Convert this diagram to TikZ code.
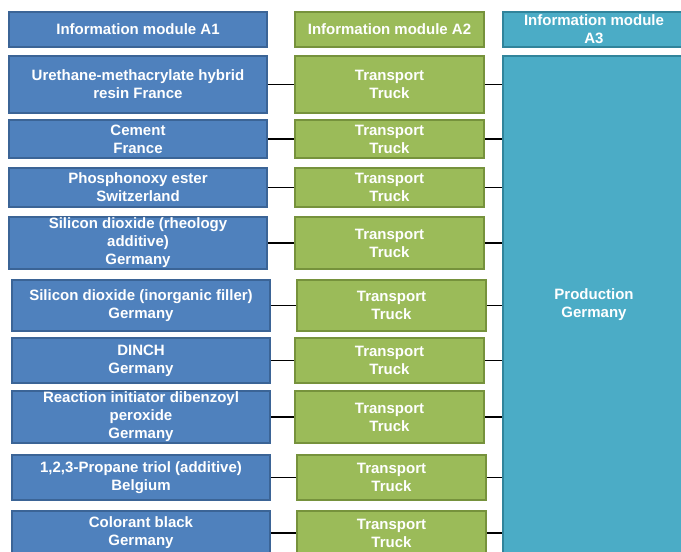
\documentclass[tikz,border=0pt]{standalone}
\usepackage{fontspec}
\setmainfont{Liberation Sans}
\definecolor{bfill}{HTML}{4F81BD}
\definecolor{bline}{HTML}{3B6496}
\definecolor{gfill}{HTML}{9BBB59}
\definecolor{gline}{HTML}{76923C}
\definecolor{tfill}{HTML}{4BACC6}
\definecolor{tline}{HTML}{31849B}
\tikzset{
  basebox/.style={rectangle, inner sep=0pt, line width=1.5pt, text=white, align=center,
    font=\fontsize{15}{18}\selectfont\bfseries},
  abox/.style={basebox, fill=bfill, draw=bline},
  gbox/.style={basebox, fill=gfill, draw=gline},
  tbox/.style={basebox, fill=tfill, draw=tline},
  conn/.style={line width=1.6pt, black},
}
\begin{document}
\begin{tikzpicture}[x=1pt,y=-1pt]
\useasboundingbox (0,0) rectangle (681,552);
\clip (0,0) rectangle (681,552);
% headers
\node[abox, minimum width=258pt, minimum height=35pt] (h1) at (138,29.5) {Information module A1};
\node[gbox, minimum width=189pt, minimum height=35pt] (h2) at (389.5,29.5) {Information module A2};
\node[tbox, minimum width=182pt, minimum height=35pt] (h3) at (594,29.5) {Information module\\A3};
% production
\node[tbox, minimum width=182pt, minimum height=498pt] (p) at (594,305) {Production\\Germany};
% rows
\node[abox, minimum width=258pt, minimum height=57pt] (a1) at (138,84.5) {Urethane-methacrylate hybrid\\resin France};
\node[gbox, minimum width=189pt, minimum height=57pt] (b1) at (389.5,84.5) {Transport\\Truck};
\node[abox, minimum width=258pt, minimum height=38pt] (a2) at (138,139) {Cement\\France};
\node[gbox, minimum width=189pt, minimum height=38pt] (b2) at (389.5,139) {Transport\\Truck};
\node[abox, minimum width=258pt, minimum height=39pt] (a3) at (138,187.5) {Phosphonoxy ester\\Switzerland};
\node[gbox, minimum width=189pt, minimum height=39pt] (b3) at (389.5,187.5) {Transport\\Truck};
\node[abox, minimum width=258pt, minimum height=52pt] (a4) at (138,243) {Silicon dioxide (rheology\\additive)\\Germany};
\node[gbox, minimum width=189pt, minimum height=52pt] (b4) at (389.5,243) {Transport\\Truck};
\node[abox, minimum width=258pt, minimum height=51pt] (a5) at (141,305.5) {Silicon dioxide (inorganic filler)\\Germany};
\node[gbox, minimum width=189pt, minimum height=51pt] (b5) at (391.5,305.5) {Transport\\Truck};
\node[abox, minimum width=258pt, minimum height=45pt] (a6) at (141,360.5) {DINCH\\Germany};
\node[gbox, minimum width=189pt, minimum height=45pt] (b6) at (389.5,360.5) {Transport\\Truck};
\node[abox, minimum width=258pt, minimum height=52pt] (a7) at (141,417) {Reaction initiator dibenzoyl\\peroxide\\Germany};
\node[gbox, minimum width=189pt, minimum height=52pt] (b7) at (389.5,417) {Transport\\Truck};
\node[abox, minimum width=258pt, minimum height=45pt] (a8) at (141,477.5) {1,2,3-Propane triol (additive)\\Belgium};
\node[gbox, minimum width=189pt, minimum height=45pt] (b8) at (391.5,477.5) {Transport\\Truck};
\node[abox, minimum width=258pt, minimum height=44pt] (a9) at (141,533) {Colorant black\\Germany};
\node[gbox, minimum width=189pt, minimum height=44pt] (b9) at (391.5,533) {Transport\\Truck};
% connectors
\foreach \i in {1,...,9}{
  \draw[conn] (a\i.east) -- (b\i.west);
  \draw[conn] (b\i.east) -- (b\i.east -| p.west);
}
\end{tikzpicture}
\end{document}
